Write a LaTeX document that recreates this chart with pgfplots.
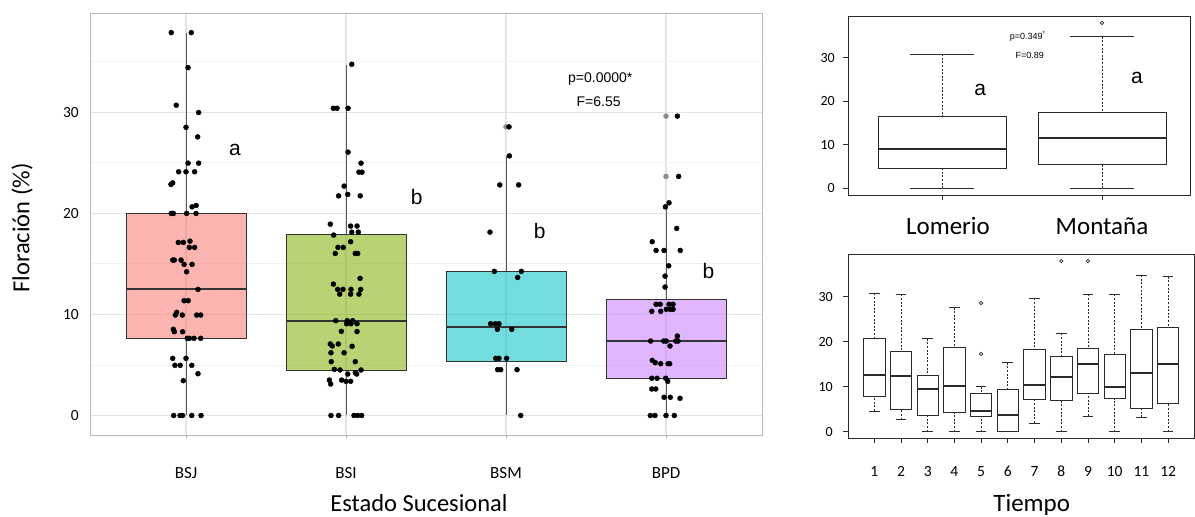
\documentclass[border=0pt]{standalone}
\usepackage{pgfplots}
\pgfplotsset{compat=1.18}
\usepgfplotslibrary{statistics}
\usepackage{fontspec}
\setmainfont{Carlito}
\newfontfamily\arial{Liberation Sans}
\newcommand\fs[1]{\fontsize{#1}{#1}\selectfont}
\definecolor{c1}{HTML}{F8766D}
\definecolor{c2}{HTML}{7CAE00}
\definecolor{c3}{HTML}{00BFC4}
\definecolor{c4}{HTML}{C77CFF}
\definecolor{gridmaj}{HTML}{E4E4E4}
\definecolor{gridmin}{HTML}{F1F1F1}
\definecolor{framec}{HTML}{B8B8B8}
\definecolor{boxc}{HTML}{333333}
\definecolor{whc}{HTML}{5A5A5A}
\definecolor{outg}{HTML}{8C8C8C}
\definecolor{rline}{HTML}{2A2A2A}
\pgfplotsset{
  ggbox/.style={draw=boxc, line width=0.9pt, fill opacity=0.55,
    boxplot/draw direction=y,
    boxplot/every median/.style={line width=2pt},
    boxplot/every whisker/.style={draw=whc, line width=1pt}},
  rbox/.style={draw=rline, line width=0.8pt,
    boxplot/draw direction=y,
    boxplot/every median/.style={line width=1.8pt},
    boxplot/draw/lower whisker/.code={%
      \draw[rline, dash pattern=on 2pt off 1.6pt, line width=0.7pt]
        (boxplot box cs:\pgfplotsboxplotvalue{lower whisker},0.5) --
        (boxplot box cs:\pgfplotsboxplotvalue{lower quartile},0.5);
      \draw[rline, line width=0.8pt]
        (boxplot whisker cs:\pgfplotsboxplotvalue{lower whisker},0) --
        (boxplot whisker cs:\pgfplotsboxplotvalue{lower whisker},1);},
    boxplot/draw/upper whisker/.code={%
      \draw[rline, dash pattern=on 2pt off 1.6pt, line width=0.7pt]
        (boxplot box cs:\pgfplotsboxplotvalue{upper whisker},0.5) --
        (boxplot box cs:\pgfplotsboxplotvalue{upper quartile},0.5);
      \draw[rline, line width=0.8pt]
        (boxplot whisker cs:\pgfplotsboxplotvalue{upper whisker},0) --
        (boxplot whisker cs:\pgfplotsboxplotvalue{upper whisker},1);}},
  jit/.style={only marks, mark=*, mark size=2.5pt, black},
}
\begin{document}
\begin{tikzpicture}
\useasboundingbox (0,0) rectangle (1195pt,517pt);
% ---------------- main panel ----------------
\begin{axis}[
  at={(90pt,82pt)}, anchor=south west, scale only axis,
  width=672pt, height=422pt,
  xmin=0.4, xmax=4.6, ymin=-1.93, ymax=39.8,
  xtick={1,2,3,4}, xticklabels={BSJ,BSI,BSM,BPD},
  ytick={0,10,20,30}, minor ytick={5,15,25,35},
  xmajorgrids, ymajorgrids, yminorgrids,
  major grid style={draw=gridmaj, line width=1.1pt},
  minor grid style={draw=gridmin, line width=0.8pt},
  axis line style={draw=framec, line width=0.9pt},
  xtick pos=bottom, ytick pos=left, tick align=outside,
  major tick length=3pt, minor tick length=0pt,
  xtick style={draw=gray!70, line width=0.8pt},
  ytick style={draw=none},
  xticklabel style={font=\fs{17}, anchor=base, yshift=-40pt, inner sep=0pt},
  yticklabel style={font=\fs{15.5}, anchor=east, inner sep=0pt, xshift=-8pt},
  /pgf/number format/assume math mode=true,
  clip mode=individual,
]
\addplot[ggbox, fill=c1, boxplot prepared={lower whisker=0, lower quartile=7.63, median=12.47, upper quartile=20.0, upper whisker=37.86, draw position=1, box extend=0.75, whisker extend=0}] coordinates {};
\addplot[ggbox, fill=c2, boxplot prepared={lower whisker=0, lower quartile=4.5, median=9.34, upper quartile=17.87, upper whisker=34.7, draw position=2, box extend=0.75, whisker extend=0}] coordinates {};
\addplot[ggbox, fill=c3, boxplot prepared={lower whisker=0, lower quartile=5.39, median=8.78, upper quartile=14.2, upper whisker=25.67, draw position=3, box extend=0.75, whisker extend=0}] coordinates {};
\addplot[ggbox, fill=c4, boxplot prepared={lower whisker=0, lower quartile=3.68, median=7.39, upper quartile=11.48, upper whisker=20.8, draw position=4, box extend=0.75, whisker extend=0}] coordinates {};
% outliers (grey)
\addplot[only marks, mark=*, mark size=2.5pt, color=outg] coordinates {(3,28.54) (4,29.6) (4,23.64)};
% jittered points
\addplot[jit] table {
x y
0.908 37.86
1.033 37.86
1.013 34.4
0.939 30.68
1.079 29.96
1.0 28.5
1.073 27.55
1.013 24.95
1.079 24.95
0.954 24.1
1.0 24.1
1.054 24.1
0.917 23.0
0.906 22.85
1.038 20.63
1.063 20.77
0.908 19.98
0.921 19.98
1.004 19.98
1.063 19.98
0.952 17.11
0.983 17.11
1.025 17.24
1.021 16.62
1.054 16.62
0.917 15.37
0.927 15.37
0.969 15.37
0.988 14.94
1.038 14.94
1.004 14.21
1.075 12.47
0.988 11.35
1.014 11.35
0.942 10.2
0.933 9.93
0.977 9.93
1.067 9.93
1.092 9.93
0.921 8.52
0.927 8.28
0.979 8.28
1.008 7.63
1.021 7.63
1.05 7.63
1.092 7.63
0.917 5.65
1.0 5.65
0.931 4.96
0.964 4.96
1.036 4.96
1.075 4.13
0.983 3.44
0.923 0
0.963 0
0.979 0
1.036 0
1.094 0
};
\addplot[jit] table {
x y
2.036 34.73
1.921 30.38
1.944 30.38
2.013 30.38
2.013 26.04
2.094 24.95
2.081 24.06
2.1 24.06
1.988 22.68
1.954 21.72
2.011 21.86
2.089 21.72
1.902 18.92
2.029 18.73
2.069 18.73
1.923 17.84
2.036 18.13
2.077 18.13
2.029 17.18
1.95 16.62
1.983 16.62
1.933 16.02
2.058 16.02
2.073 16.02
2.088 13.56
1.921 12.99
1.948 12.47
1.981 12.47
2.031 12.47
2.092 12.47
1.961 12.0
2.029 12.0
2.081 12.0
1.936 9.37
2.008 9.37
2.042 9.37
2.004 9.07
2.031 9.07
2.069 9.07
1.971 8.32
2.069 8.3
1.902 7.07
1.952 7.07
1.914 6.87
2.038 6.84
1.906 6.2
1.988 6.2
1.908 5.32
2.058 5.32
1.927 4.56
1.963 4.5
2.094 4.5
2.058 4.23
2.011 4.1
2.067 4.1
1.896 3.5
1.904 3.11
1.973 3.5
2.0 3.38
2.029 3.38
1.906 0
1.954 0
2.05 0
2.073 0
2.098 0
};
\addplot[jit] table {
x y
3.019 28.54
3.021 25.67
2.961 22.8
3.079 22.8
2.9 18.13
2.927 14.25
3.096 14.25
3.073 13.65
2.904 9.07
2.933 9.07
2.956 9.07
2.946 8.52
3.036 8.52
2.936 5.65
2.956 5.65
3.004 5.65
2.948 4.53
2.967 4.53
3.069 4.53
3.092 0
};
\addplot[jit] table {
x y
4.071 29.6
4.079 23.64
4.019 21.03
3.996 20.63
4.067 18.5
3.914 17.18
3.938 16.32
3.988 16.32
4.089 16.32
4.017 14.8
3.994 13.78
3.994 12.7
3.938 11.0
3.964 11.0
4.019 11.0
4.044 11.0
3.911 10.3
3.967 10.3
4.002 10.5
4.027 10.5
4.044 10.5
4.071 7.86
3.904 7.36
3.986 7.36
4.002 7.36
4.061 7.36
4.075 7.36
4.025 6.87
3.914 5.45
3.933 5.22
3.967 5.12
4.013 5.12
4.023 5.12
3.911 3.68
3.944 3.68
3.998 3.68
4.011 3.38
3.911 2.62
3.936 2.62
3.988 1.8
4.027 1.8
4.0875 1.7
3.902 0
3.931 0
4.0 0
4.052 0
};
\node[font=\arial\fs{21}, anchor=base] at (axis cs:1.306,25.74) {a};
\node[font=\arial\fs{21}, anchor=base] at (axis cs:2.442,20.9) {b};
\node[font=\arial\fs{21}, anchor=base] at (axis cs:3.21,17.5) {b};
\node[font=\arial\fs{21}, anchor=base] at (axis cs:4.266,13.56) {b};
\node[font=\arial\fs{14}, anchor=base] at (axis cs:3.589,32.93) {p=0.0000*};
\node[font=\arial\fs{14}, anchor=base, fill=white, inner xsep=4pt, inner ysep=2pt] at (axis cs:3.579,30.51) {F=6.55};
\end{axis}
\node[font=\fs{24.5}, rotate=90] at (22pt,289pt) {Floración (\%)};
\node[font=\fs{24.5}, anchor=base] at (419pt,5.3pt) {Estado Sucesional};
% ---------------- top right ----------------
\begin{axis}[
  at={(848pt,322pt)}, anchor=south west, scale only axis,
  width=342pt, height=179pt,
  xmin=0.4125, xmax=2.55, ymin=-1.54, ymax=39.58,
  xtick={1,2}, xticklabels={\hspace*{12pt}Lomerio, Montaña},
  ytick={0,10,20,30},
  axis line style={draw=rline, line width=0.8pt},
  tick align=outside, xtick pos=bottom, ytick pos=left,
  major tick length=5pt, tick style={draw=rline, line width=0.8pt},
  xticklabel style={font=\fs{25}, anchor=base, yshift=-35pt, inner sep=0pt},
  yticklabel style={font=\fs{14}, anchor=east, inner sep=0pt, xshift=-8pt},
  /pgf/number format/assume math mode=true,
  clip mode=individual,
]
\addplot[rbox, boxplot prepared={lower whisker=0, lower quartile=4.6, median=9.03, upper quartile=16.6, upper whisker=30.8, draw position=1, box extend=0.8, whisker extend=0.4}] coordinates {};
\addplot[rbox, boxplot prepared={lower whisker=0, lower quartile=5.42, median=11.49, upper quartile=17.46, upper whisker=34.8, draw position=2, box extend=0.8, whisker extend=0.4}] coordinates {};
\addplot[only marks, mark=o, mark size=1.7pt, rline, line width=0.7pt] coordinates {(2,38.0)};
\node[font=\arial\fs{9}, anchor=base] at (axis cs:1.535,34.23) {p=0.349\textsuperscript{*}};
\node[font=\arial\fs{9}, anchor=base] at (axis cs:1.548,29.77) {F=0.89};
\node[font=\arial\fs{21}, anchor=base] at (axis cs:1.239,21.43) {a};
\node[font=\arial\fs{21}, anchor=base] at (axis cs:2.219,24.12) {a};
\end{axis}
% ---------------- bottom right ----------------
\begin{axis}[
  at={(848pt,78.7pt)}, anchor=south west, scale only axis,
  width=346.3pt, height=184.3pt,
  xmin=0.017, xmax=12.98, ymin=-1.47, ymax=39.5,
  xtick={1,...,12},
  ytick={0,10,20,30},
  axis line style={draw=rline, line width=0.8pt},
  tick align=outside, xtick pos=bottom, ytick pos=left,
  major tick length=5pt, tick style={draw=rline, line width=0.8pt},
  xticklabel style={font=\fs{15.5}, anchor=base, yshift=-33.4pt, inner sep=0pt},
  yticklabel style={font=\fs{14}, anchor=east, inner sep=0pt, xshift=-10pt},
  /pgf/number format/assume math mode=true,
  clip mode=individual,
]
\addplot[rbox, boxplot prepared={lower whisker=4.6, lower quartile=7.93, median=12.52, upper quartile=20.67, upper whisker=30.74, draw position=1, box extend=0.8, whisker extend=0.4}] coordinates {};
\addplot[rbox, boxplot prepared={lower whisker=2.67, lower quartile=4.96, median=12.3, upper quartile=17.85, upper whisker=30.5, draw position=2, box extend=0.8, whisker extend=0.4}] coordinates {};
\addplot[rbox, boxplot prepared={lower whisker=0, lower quartile=3.7, median=9.56, upper quartile=12.52, upper whisker=20.67, draw position=3, box extend=0.8, whisker extend=0.4}] coordinates {};
\addplot[rbox, boxplot prepared={lower whisker=0, lower quartile=4.37, median=10.07, upper quartile=18.74, upper whisker=27.6, draw position=4, box extend=0.8, whisker extend=0.4}] coordinates {};
\addplot[rbox, boxplot prepared={lower whisker=0, lower quartile=3.48, median=4.6, upper quartile=8.6, upper whisker=10.0, draw position=5, box extend=0.8, whisker extend=0.4}] coordinates {};
\addplot[rbox, boxplot prepared={lower whisker=0, lower quartile=0, median=3.63, upper quartile=9.33, upper whisker=15.33, draw position=6, box extend=0.8, whisker extend=0.4}] coordinates {};
\addplot[rbox, boxplot prepared={lower whisker=1.93, lower quartile=7.11, median=10.37, upper quartile=18.22, upper whisker=29.63, draw position=7, box extend=0.8, whisker extend=0.4}] coordinates {};
\addplot[rbox, boxplot prepared={lower whisker=0, lower quartile=6.96, median=12.15, upper quartile=16.67, upper whisker=21.85, draw position=8, box extend=0.8, whisker extend=0.4}] coordinates {};
\addplot[rbox, boxplot prepared={lower whisker=3.48, lower quartile=8.52, median=15.04, upper quartile=18.44, upper whisker=30.5, draw position=9, box extend=0.8, whisker extend=0.4}] coordinates {};
\addplot[rbox, boxplot prepared={lower whisker=0, lower quartile=7.33, median=9.85, upper quartile=17.19, upper whisker=30.5, draw position=10, box extend=0.8, whisker extend=0.4}] coordinates {};
\addplot[rbox, boxplot prepared={lower whisker=3.19, lower quartile=5.26, median=12.96, upper quartile=22.74, upper whisker=34.8, draw position=11, box extend=0.8, whisker extend=0.4}] coordinates {};
\addplot[rbox, boxplot prepared={lower whisker=0, lower quartile=6.22, median=15.04, upper quartile=23.1, upper whisker=34.44, draw position=12, box extend=0.8, whisker extend=0.4}] coordinates {};
\addplot[only marks, mark=o, mark size=1.7pt, rline, line width=0.7pt] coordinates {(5,28.6) (5,17.26) (8,37.93) (9,37.93)};
\end{axis}
\node[font=\fs{25}, anchor=base] at (1031.7pt,5.3pt) {Tiempo};
\end{tikzpicture}
\end{document}
